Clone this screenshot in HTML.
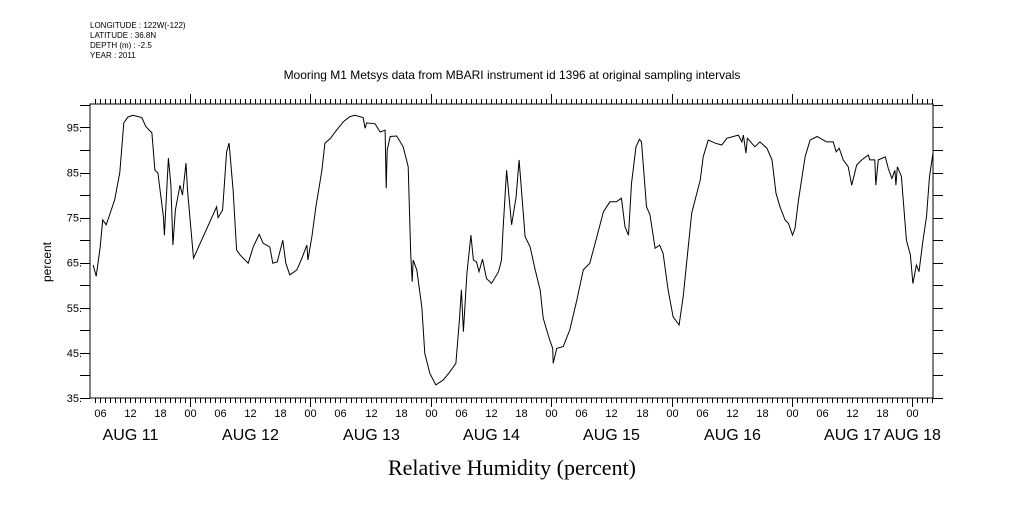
<!DOCTYPE html>
<html><head><meta charset="utf-8"><style>
body{margin:0;background:#fff;width:1009px;height:504px;overflow:hidden}
svg text{font-family:"Liberation Sans",sans-serif;fill:#000}
</style></head><body>
<svg id="chart" width="1009" height="504" xmlns="http://www.w3.org/2000/svg">
<g font-size="8">
<text x="90" y="28">LONGITUDE : 122W(-122)</text>
<text x="90" y="38">LATITUDE : 36.8N</text>
<text x="90" y="48">DEPTH (m) : -2.5</text>
<text x="90" y="58">YEAR : 2011</text>
</g>
<text x="512" y="79" font-size="12" text-anchor="middle">Mooring M1 Metsys data from MBARI instrument id 1396 at original sampling intervals</text>
<text transform="translate(51,262) rotate(-90)" font-size="12" text-anchor="middle">percent</text>
<text x="512" y="475" font-size="22" text-anchor="middle" style="font-family:'Liberation Serif',serif">Relative Humidity (percent)</text>
<g id="axes"></g>
<path id="line" fill="none" stroke="#000" stroke-width="1"/>
</svg>
<script>
const hours=[4.7,5.3,6.1,6.6,7.3,8.1,9,10,10.8,11.6,12.6,14.4,15.2,16.4,17,17.6,18.7,18.9,19.4,19.7,20.2,20.6,21.1,22,22.5,23.2,23.5,24.7,29.3,29.6,30.5,31.3,31.8,32.6,33.3,34,35.6,36.6,37.8,38.6,39.9,40.5,41.4,42.5,43.1,43.9,45.3,46.3,47.3,47.5,48.3,49.1,50.3,50.9,52,53.2,54.6,55.9,56.9,58.5,58.9,59.2,60.9,61.9,62.9,63.1,63.3,63.9,65.2,66.5,67.5,68,68.3,68.5,69.2,70.2,70.8,71.8,73,74.5,75.8,77,77.7,78.1,78.5,79.2,80,80.5,81.1,81.6,82.3,83.1,84.1,85.5,86.1,86.4,87.1,88.1,89,89.6,90.8,91.8,92.8,93.8,94.4,95.6,96.3,96.4,97.1,98.4,99.7,101.1,102.4,103.7,105.1,106.4,107.7,109,110,110.7,111.4,112,112.9,113.6,114,115,115.7,116.7,117.6,118.3,119.3,120.3,121.5,122.3,124,125.7,126.3,127.3,128.7,130,131,133.3,134,134.3,134.8,135.1,136.6,137.6,139,140,140.8,141.6,142.6,143.3,144.1,144.6,145.3,146.6,147.6,149,150.9,152.2,152.8,153.4,154.2,155.2,155.9,156.9,157.9,159.2,159.5,160.5,160.7,161.2,162.6,163.2,163.9,164.5,164.7,165,165.8,166.8,167.6,168.1,168.8,169.3,170.1,170.8,171.4,172.1];
const humidity=[64.5,62,68.5,74.5,73.4,76,79,85,96,97.3,97.7,97.2,95.2,93.8,85.5,84.9,75.2,71.1,81.8,88.2,82.2,68.9,76.7,82.2,80,87.1,81.1,66,77.4,75,76.7,89.6,91.5,81.1,67.8,66.7,64.9,68.5,71.3,69.3,68.5,64.9,65.2,70,64.9,62.3,63.4,66,68.9,65.6,70.8,77.4,85.5,91.5,92.6,94.4,96.3,97.4,97.7,97.2,94.8,96,95.8,94,94.4,81.5,90,93,93.1,90.7,86.3,67.1,60.8,65.6,63.4,55.2,44.9,40.5,37.9,39,40.8,42.7,52.3,59,49.7,62.6,71.1,65.6,65.2,63,65.8,61.5,60.4,63,65.6,72.2,85.5,73.4,79.6,87.8,70.8,68.5,63.4,58.9,52.7,48.2,46,42.7,46,46.4,50.1,56.7,63.4,64.9,70.8,76.3,78.5,78.5,79.3,73,71.1,82.6,90.7,92.4,91.8,77.4,75.6,68.2,68.9,67.1,59,53,51.2,57.5,76,83.3,88.5,92.2,91.5,91.1,92.6,93.3,91.8,93.3,89.3,92.6,90.7,91.8,90.4,87.8,80.4,77.4,74.5,73.7,71.1,72.6,78.9,88.5,92.2,93,91.8,91.8,89.6,90.4,87.8,86.3,82.2,86.7,87.8,88.9,87.8,87.8,82.2,87.8,88.5,85.9,83.7,85.5,82.2,86.3,84.1,70,66.7,60.4,64.5,63,70,75.2,84.1,89.3];
const yTickLabels=["35.","45.","55.","65.","75.","85.","95."];
const yTickValues=[35,45,55,65,75,85,95];
const hourLabels=["00","06","12","18"];
const dayLabels=["AUG 11","AUG 12","AUG 13","AUG 14","AUG 15","AUG 16","AUG 17","AUG 18"];

const L=90,R=933,T=104,B=398,X0=4.07,X1=172.1,Y0=35,Y1=100.2;
function sx(h){return L+(h-X0)/(X1-X0)*(R-L);}
function sy(v){return B-(v-Y0)/(Y1-Y0)*(B-T);}
const NS="http://www.w3.org/2000/svg";
const axes=document.getElementById('axes');
function line(x1,y1,x2,y2){const l=document.createElementNS(NS,'line');l.setAttribute('x1',x1);l.setAttribute('y1',y1);l.setAttribute('x2',x2);l.setAttribute('y2',y2);l.setAttribute('stroke','#000');l.setAttribute('stroke-width','1');


axes.appendChild(l);return l;}
function text(x,y,s,size,anchor){const t=document.createElementNS(NS,'text');t.setAttribute('x',x);t.setAttribute('y',y);t.setAttribute('font-size',size);t.setAttribute('text-anchor',anchor);t.textContent=s;


axes.appendChild(t);}
const frame=document.createElementNS(NS,'rect');
frame.setAttribute('x',L);frame.setAttribute('y',T);frame.setAttribute('width',R-L);frame.setAttribute('height',B-T);frame.setAttribute('fill','none');frame.setAttribute('stroke','#000');


axes.appendChild(frame);
for(let h=Math.ceil(X0);h<=X1;h++){const x=Math.round(sx(h))+0.5;const day=h%24===0;
 line(x,B,x,B+(day?9:5));line(x,T,x,T-(day?10:5));
 if(h%6===0){text(x,B+19,hourLabels[(h%24)/6],11,'middle');}
 if(h%24===12){text(x,B+42,dayLabels[h/24|0],16,'middle');}}
text(sx(168),B+42,dayLabels[7],16,'middle');
for(let v=35;v<=100;v+=5){const y=Math.round(sy(v))+0.5;line(L-10,y,L,y);line(R,y,R+10,y);}
yTickValues.forEach((v,i)=>text(L-8,sy(v)+4,yTickLabels[i],11,'end'));
let d='';hours.forEach((h,i)=>{d+=(i?'L':'M')+sx(h).toFixed(1)+' '+sy(humidity[i]).toFixed(1);});
document.getElementById('line').setAttribute('d',d);
</script>
</body></html>
